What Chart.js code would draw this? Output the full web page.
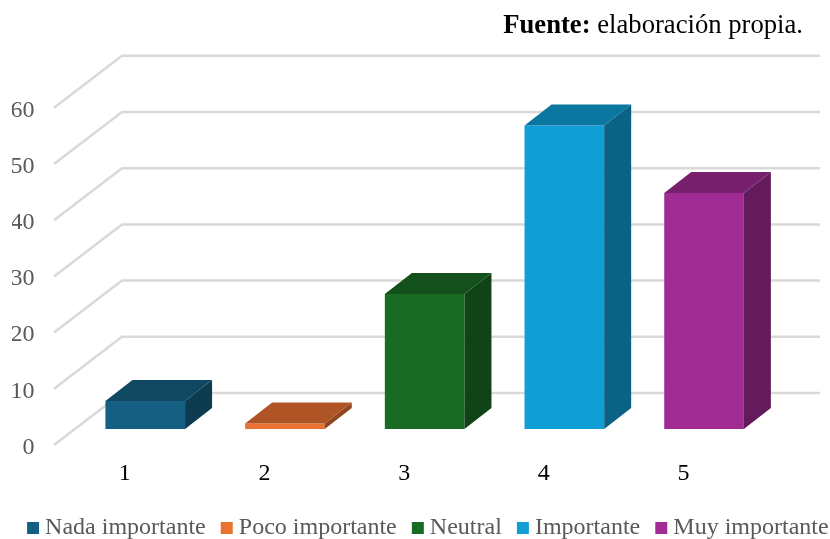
<!DOCTYPE html>
<html lang="es">
<head>
<meta charset="utf-8">
<title>Importancia</title>
<script src="https://cdn.jsdelivr.net/npm/chart.js@4"></script>
<style>
    html, body { margin: 0; padding: 0; background: #fff; }
    #wrap { position: relative; width: 830px; height: 539px; }
    #fuente {
        position: absolute; top: 9px; right: 27px;
        font: 26.67px "Liberation Serif", serif; color: #000; white-space: nowrap;
    }
</style>
</head>
<body>
<div id="wrap">
    <canvas id="importanceChart" width="830" height="539"></canvas>
    <div id="fuente"><b>Fuente:</b> elaboración propia.</div>
</div>
<script>
const categories = ["1", "2", "3", "4", "5"];
const seriesNames = ["Nada importante", "Poco importante", "Neutral", "Importante", "Muy importante"];
const seriesValues = [5, 1, 24, 54, 42];
const yTicks = [0, 10, 20, 30, 40, 50, 60];

const frontColors = ["#156082", "#e97132", "#196b24", "#0f9ed5", "#a02b93"];
const topColors = ["#104861", "#af5525", "#13501b", "#0b76a0", "#78206e"];
const sideColors = ["#0d3c51", "#91461f", "#104316", "#0a6384", "#641b5c"];

const GRID_COLOR = "#d9d9d9";
const BAR_DEPTH_X = 27;
const BAR_DEPTH_Y = 21;
// floor diagonal, measured from the plane the bars stand on
const FLOOR_FRONT = { x: 54, dy: 16 };
const FLOOR_BACK = { x: 122, dy: -36 };
const LEGEND_HEIGHT = 44;

function fillPoly(ctx, color, points) {
    ctx.fillStyle = color;
    ctx.beginPath();
    points.forEach(([x, y], i) => (i ? ctx.lineTo(x, y) : ctx.moveTo(x, y)));
    ctx.closePath();
    ctx.fill();
}

// keeps the legend on a single row and fixes its height
const legendRow = {
    id: "legendRow",
    beforeInit(chart) {
        const originalFit = chart.legend.fit;
        const originalDraw = chart.legend.draw;
        chart.legend.fit = function () {
            const width = this.maxWidth;
            this.maxWidth = 2000;
            originalFit.call(this);
            this.maxWidth = width;
            this.width = width;
            this.height = LEGEND_HEIGHT;
        };
        chart.legend.draw = function () {
            const right = this.right;
            this.right = 2000;
            originalDraw.call(this);
            this.right = right;
        };
    }
};

// walls: one diagonal plus one horizontal line per y tick
const wallGrid = {
    id: "wallGrid",
    beforeDatasetsDraw(chart) {
        const { ctx, scales: { y } } = chart;
        ctx.save();
        ctx.strokeStyle = GRID_COLOR;
        ctx.lineWidth = 2.5;
        yTicks.forEach(value => {
            const py = y.getPixelForValue(value);
            ctx.beginPath();
            ctx.moveTo(FLOOR_FRONT.x, py + FLOOR_FRONT.dy);
            ctx.lineTo(FLOOR_BACK.x, py + FLOOR_BACK.dy);
            ctx.lineTo(820, py + FLOOR_BACK.dy);
            ctx.stroke();
        });
        ctx.restore();
    }
};

// top and side faces, extruded from each drawn bar
const barDepth = {
    id: "barDepth",
    afterDatasetsDraw(chart) {
        const { ctx } = chart;
        chart.data.datasets.forEach((dataset, d) => {
            const bar = chart.getDatasetMeta(d).data[d];
            const left = bar.x - bar.width / 2;
            const right = bar.x + bar.width / 2;
            const dx = BAR_DEPTH_X;
            const dy = BAR_DEPTH_Y;
            fillPoly(ctx, sideColors[d], [
                [right, bar.y], [right + dx, bar.y - dy],
                [right + dx, bar.base - dy], [right, bar.base]
            ]);
            fillPoly(ctx, topColors[d], [
                [left, bar.y], [left + dx, bar.y - dy],
                [right + dx, bar.y - dy], [right, bar.y]
            ]);
        });
    }
};

new Chart(document.getElementById("importanceChart"), {
    type: "bar",
    data: {
        labels: categories,
        datasets: seriesNames.map((name, d) => ({
            label: name,
            data: categories.map((c, i) => (i === d ? seriesValues[d] : null)),
            backgroundColor: frontColors[d],
            barPercentage: 0.57,
            categoryPercentage: 1,
        }))
    },
    options: {
        responsive: false,
        animation: false,
        layout: { padding: { top: 91.8, left: 12 } },
        plugins: {
            tooltip: { enabled: false },
            legend: {
                position: "bottom",
                align: "start",
                labels: {
                    color: "#595959",
                    font: { family: "Liberation Serif", size: 24 },
                    usePointStyle: true,
                    pointStyle: "rect",
                    boxWidth: 0.1,
                    boxHeight: 12,
                    padding: 21,
                }
            }
        },
        scales: {
            x: {
                stacked: true,
                grid: { display: false },
                border: { display: false },
                ticks: {
                    color: "#000",
                    font: { family: "Liberation Serif", size: 24 },
                    padding: 22,
                    labelOffset: -20.5,
                    maxRotation: 0,
                },
                afterFit: scale => { scale.height = 66; }
            },
            y: {
                stacked: true,
                min: 0,
                max: 60,
                grid: { display: false },
                border: { display: false },
                ticks: {
                    color: "#595959",
                    font: { family: "Liberation Serif", size: 24 },
                    stepSize: 10,
                    padding: 33,
                    labelOffset: 18.5,
                },
                afterFit: scale => { scale.width = 63.4; }
            },
            // empty axis that reserves the right margin
            yRight: {
                position: "right",
                grid: { display: false },
                border: { display: false },
                ticks: { display: false },
                afterFit: scale => { scale.width = 56.1; }
            }
        }
    },
    plugins: [legendRow, wallGrid, barDepth]
});
</script>
</body>
</html>
